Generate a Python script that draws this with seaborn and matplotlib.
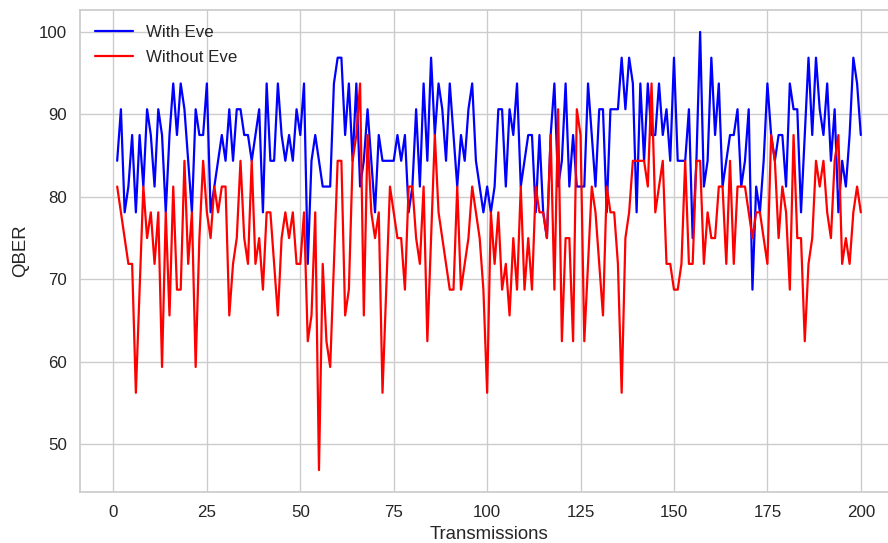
import numpy as np
import pandas as pd
import seaborn as sns
import matplotlib
matplotlib.use("Agg")
import matplotlib.pyplot as plt

# QBER per transmission (values are multiples of 100/32)
with_eve = [
    84.375, 90.625, 78.125, 81.25, 87.5, 78.125, 87.5, 81.25, 90.625, 87.5,
    81.25, 90.625, 87.5, 78.125, 87.5, 93.75, 87.5, 93.75, 90.625, 84.375,
    78.125, 90.625, 87.5, 87.5, 93.75, 78.125, 81.25, 84.375, 87.5, 84.375,
    90.625, 84.375, 90.625, 90.625, 87.5, 87.5, 84.375, 87.5, 90.625, 78.125,
    93.75, 84.375, 84.375, 93.75, 87.5, 84.375, 87.5, 84.375, 90.625, 87.5,
    93.75, 71.875, 84.375, 87.5, 84.375, 81.25, 81.25, 81.25, 93.75, 96.875,
    96.875, 87.5, 93.75, 84.375, 93.75, 81.25, 84.375, 90.625, 84.375, 78.125,
    87.5, 84.375, 84.375, 84.375, 84.375, 87.5, 84.375, 87.5, 78.125, 81.25,
    90.625, 81.25, 93.75, 84.375, 96.875, 87.5, 93.75, 90.625, 84.375, 93.75,
    87.5, 81.25, 87.5, 84.375, 90.625, 93.75, 84.375, 81.25, 78.125, 81.25,
    78.125, 81.25, 90.625, 90.625, 81.25, 90.625, 87.5, 93.75, 81.25, 84.375,
    87.5, 87.5, 78.125, 87.5, 78.125, 75.0, 87.5, 93.75, 81.25, 84.375,
    93.75, 81.25, 87.5, 81.25, 81.25, 81.25, 93.75, 87.5, 81.25, 90.625,
    90.625, 78.125, 90.625, 90.625, 90.625, 96.875, 90.625, 96.875, 93.75, 78.125,
    93.75, 84.375, 93.75, 87.5, 87.5, 93.75, 87.5, 90.625, 84.375, 96.875,
    84.375, 84.375, 84.375, 90.625, 75.0, 84.375, 100.0, 81.25, 84.375, 96.875,
    87.5, 93.75, 81.25, 84.375, 87.5, 87.5, 90.625, 81.25, 84.375, 90.625,
    68.75, 81.25, 78.125, 84.375, 93.75, 87.5, 84.375, 87.5, 87.5, 81.25,
    93.75, 90.625, 90.625, 78.125, 87.5, 96.875, 87.5, 96.875, 90.625, 87.5,
    93.75, 84.375, 90.625, 78.125, 84.375, 81.25, 87.5, 96.875, 93.75, 87.5,
]

without_eve = [
    81.25, 78.125, 75.0, 71.875, 71.875, 56.25, 68.75, 81.25, 75.0, 78.125,
    71.875, 78.125, 59.375, 78.125, 65.625, 81.25, 68.75, 68.75, 84.375, 71.875,
    78.125, 59.375, 75.0, 84.375, 78.125, 75.0, 81.25, 78.125, 81.25, 81.25,
    65.625, 71.875, 75.0, 84.375, 75.0, 71.875, 84.375, 71.875, 75.0, 68.75,
    78.125, 78.125, 71.875, 65.625, 75.0, 78.125, 75.0, 78.125, 71.875, 71.875,
    78.125, 62.5, 65.625, 78.125, 46.875, 71.875, 62.5, 59.375, 71.875, 84.375,
    84.375, 65.625, 68.75, 84.375, 87.5, 93.75, 65.625, 87.5, 78.125, 75.0,
    78.125, 56.25, 68.75, 81.25, 78.125, 75.0, 75.0, 68.75, 81.25, 81.25,
    75.0, 71.875, 81.25, 62.5, 75.0, 87.5, 78.125, 75.0, 71.875, 68.75,
    68.75, 81.25, 68.75, 71.875, 75.0, 81.25, 78.125, 75.0, 68.75, 56.25,
    78.125, 71.875, 78.125, 68.75, 71.875, 65.625, 75.0, 68.75, 81.25, 68.75,
    75.0, 68.75, 81.25, 78.125, 78.125, 75.0, 87.5, 68.75, 90.625, 62.5,
    75.0, 75.0, 62.5, 90.625, 87.5, 62.5, 71.875, 81.25, 78.125, 71.875,
    65.625, 81.25, 78.125, 78.125, 71.875, 56.25, 75.0, 78.125, 84.375, 84.375,
    84.375, 84.375, 81.25, 93.75, 78.125, 81.25, 84.375, 71.875, 71.875, 68.75,
    68.75, 71.875, 84.375, 71.875, 71.875, 84.375, 84.375, 71.875, 78.125, 75.0,
    75.0, 81.25, 81.25, 71.875, 84.375, 71.875, 81.25, 81.25, 81.25, 78.125,
    75.0, 78.125, 78.125, 75.0, 71.875, 87.5, 84.375, 75.0, 81.25, 78.125,
    68.75, 87.5, 75.0, 75.0, 62.5, 71.875, 75.0, 84.375, 81.25, 84.375,
    78.125, 75.0, 84.375, 87.5, 71.875, 75.0, 71.875, 78.125, 81.25, 78.125,
]

transmissions = np.arange(1, len(with_eve) + 1)

sns.set_theme(style="whitegrid", context="notebook")
plt.rcParams["font.family"] = ["Liberation Sans", "DejaVu Sans"]
plt.rcParams.update({
    "xtick.labelsize": 12.2,
    "ytick.labelsize": 12.2,
    "axes.labelsize": 13.4,
    "legend.fontsize": 12.2,
    "lines.linewidth": 1.6,
})

fig = plt.figure(figsize=(8.88, 5.43), dpi=100)
ax = fig.add_axes([80 / 888, 51 / 543, 818 / 888, 482 / 543])

sns.lineplot(x=transmissions, y=with_eve, color="blue", label="With Eve", ax=ax)
sns.lineplot(x=transmissions, y=without_eve, color="red", label="Without Eve", ax=ax)

ax.set_xlabel("Transmissions", labelpad=4)
ax.set_ylabel("QBER", labelpad=7)
ax.set_xticks([0, 25, 50, 75, 100, 125, 150, 175, 200])
ax.legend(loc="upper left", frameon=False, handlelength=2.2, labelspacing=0.55)

fig.savefig("out.png", dpi=100)
